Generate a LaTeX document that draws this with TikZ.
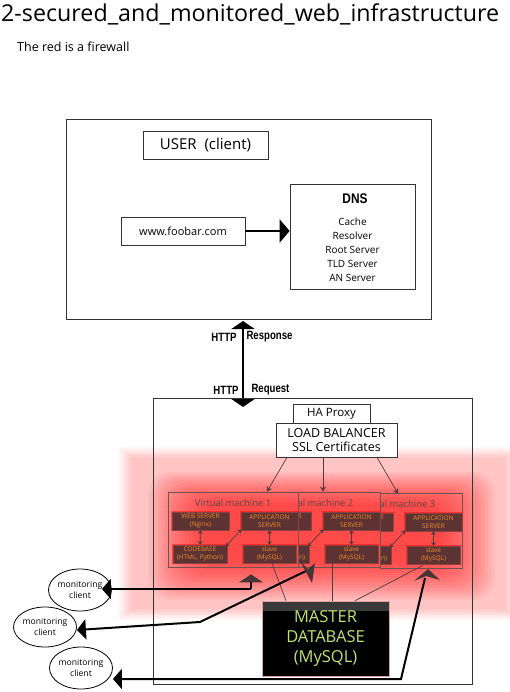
\documentclass[tikz,border=0pt]{standalone}
\usepackage{graphicx}
\usepackage{fontspec}
\setmainfont{Open Sans}
\newfontfamily\boldcond{Liberation Sans}
\usetikzlibrary{arrows.meta,shapes.geometric,calc}
\definecolor{vmframe}{RGB}{110,82,82}
\definecolor{ibfill}{RGB}{92,50,50}
\definecolor{ibdraw}{RGB}{140,64,64}
\definecolor{ibtext}{RGB}{240,140,45}
\definecolor{headgray}{RGB}{72,52,52}
\definecolor{dbtext}{RGB}{192,228,112}
\definecolor{lnk}{RGB}{78,58,58}
\definecolor{dbband}{RGB}{58,58,58}
\definecolor{dbedge}{RGB}{220,160,160}
\definecolor{vmtitle}{RGB}{92,72,72}
\newcommand\webfull{WEB SERVER\\(Nginx)}
\newcommand\webpart{\phantom{WEB SERVE}R\\\phantom{(Nginx)}}
\newcommand\codefull{CODEBASE\\(HTML, Python)}
\newcommand\codepart{\phantom{CODEBASE}\\\phantom{(HTML, Pytho}n)}
\begin{document}
\begin{tikzpicture}[x=1pt,y=-1pt,
  frame/.style={draw=black!80, line width=0.8pt, inner sep=0pt},
  wbox/.style={frame, fill=white},
  ib/.style={draw=ibdraw, fill=ibfill, line width=0.6pt, inner sep=0.5pt,
    minimum height=18pt, align=center, text=ibtext,
    font=\fontsize{6.5}{7.8}\selectfont,
    preaction={draw=red, line width=2.5pt, opacity=0.45}},
  vmbox/.style={draw=vmframe, line width=0.8pt, minimum width=130pt, minimum height=75pt, inner sep=0pt},
  vmt/.style={text=vmtitle, font=\fontsize{9.4}{11}\selectfont, inner sep=0pt},
  smallarr/.style={draw=lnk, line width=0.7pt, {Stealth[length=3.5pt,width=5pt]}-{Stealth[length=3.5pt,width=5pt]}},
  lbarr/.style={draw=lnk, line width=0.7pt, -{Stealth[length=5pt,width=6pt]}},
  dbline/.style={draw=lnk, line width=0.7pt},
  mon/.style={draw=black, line width=2pt},
  montip/.style={-{Triangle[width=20pt,length=9pt]}},
  client/.style={ellipse, draw=black, line width=0.8pt, fill=white, inner sep=0pt,
    align=center, font=\fontsize{8.6}{10.5}\selectfont},
  lbl/.style={inner sep=0pt, font=\fontsize{12}{14}\selectfont\boldcond\bfseries}
]
\useasboundingbox (0,0) rectangle (509,692);
\fill[white] (0,0) rectangle (509,692);

% title
\node[anchor=base west, inner sep=0pt] (title) at (1,22)
  {\resizebox{498pt}{!}{\fontsize{24}{28}\selectfont 2-secured\_and\_monitored\_web\_infrastructure}};
\node[anchor=base west, inner sep=0pt, font=\fontsize{12.5}{15}\selectfont] (sub) at (17,52) {The red is a firewall};

% user area
\node[wbox, minimum width=365pt, minimum height=200pt] (userarea) at (248.5,219) {};
\node[wbox, minimum width=125pt, minimum height=28pt, font=\fontsize{15}{18}\selectfont] (user) at (205.5,145) {USER\ \ (client)};
\node[wbox, minimum width=125pt, minimum height=105pt] (dns) at (352.5,236.5) {};
\node[inner sep=0pt, font=\fontsize{14}{16}\selectfont\boldcond\bfseries] (dnst) at (355,199) {\scalebox{0.85}[1]{DNS}};
\foreach \t/\yy [count=\k] in {Cache/222, Resolver/236, Root Server/250, TLD Server/264, AN Server/278}
  \node[inner sep=0pt, font=\fontsize{10}{12}\selectfont] (dnsi\k) at (352.5,\yy) {\t};
\node[wbox, minimum width=124pt, minimum height=28pt, font=\fontsize{11}{13}\selectfont] (www) at (183,231) {www.foobar.com};
\draw[line width=2.5pt, -{Triangle[width=23pt,length=10pt]}] (www.east) -- (www.east -| dns.west);

% lower area background
\fill[white] (153,398) rectangle (472,684);

% HTTP arrow
\coordinate (httptop) at (243,321);
\coordinate (httpbot) at (243,407);
\draw[line width=2.2pt, {Triangle[width=23pt,length=8pt]}-{Triangle[width=23pt,length=8pt]}] (httpbot) -- (httptop);
\node[lbl] (h1) at (224,337) {\scalebox{0.8}[1]{HTTP}};
\node[lbl] (r1) at (269.5,337) {\scalebox{0.8}[1]{Response}};
\node[lbl] (h2) at (226,390) {\scalebox{0.8}[1]{HTTP}};
\node[lbl] (r2) at (270.5,390) {\scalebox{0.8}[1]{Request}};

% firewall glow
\foreach \i in {0,...,9}
  \fill[red, opacity=0.022] (118+\i*1.5, 447+\i*1.2) rectangle (518-\i*1.5, 620-\i*1.2);
\foreach \i in {0,...,15}
  \fill[red, opacity=0.055, rounded corners=22pt] (148+\i*3.4, 472+\i*2.1) rectangle (495-\i*3.4, 600-\i*2.5);

\node[frame, minimum width=319pt, minimum height=286pt] (lower) at (312.5,541) {};
\node[wbox, minimum width=77pt, minimum height=19pt, font=\fontsize{11.5}{14}\selectfont] (ha) at (331.5,413.5) {HA Proxy};
\node[wbox, minimum width=121pt, minimum height=34pt, align=center, font=\fontsize{12.5}{14.5}\selectfont] (lb) at (336.5,440) {LOAD BALANCER\\SSL Certificates};

% virtual machines (each one partly hides the one behind it)
\foreach \n/\L/\T/\cl/\wt/\ct in {3/332/493/380/\webpart/\codepart, 2/250/492/298/\webpart/\codepart, 1/168/492/160/\webfull/\codefull} {
  \begin{scope}
    \clip (\cl,470) rectangle (490,590);
    \node[vmbox] (vm\n) at (\L+65,\T+37.5) {};
    \node[vmt] (vmt\n) at (\L+65,\T+11) {Virtual machine \n};
    \node[ib, minimum width=57pt] (web\n) at (\L+32.5,\T+29) {\wt};
    \node[ib, minimum width=57pt] (app\n) at (\L+101.5,\T+29) {APPLICATION\\SERVER};
    \node[ib, minimum width=54pt] (code\n) at (\L+32,\T+62) {\ct};
    \node[ib, minimum width=53pt] (slave\n) at (\L+101.5,\T+62) {slave\\(MySQL)};
    \draw[smallarr] (web\n) -- (code\n);
    \draw[smallarr] (app\n) -- (slave\n);
    \draw[smallarr, shorten <=-1pt, shorten >=-2pt] (app\n.south west) -- (code\n.north east);
  \end{scope}
}

% load balancer arrows
\draw[lbarr] ($(lb.south)+(-49.5,0)$) -- ($(vm1.north)+(34,0)$);
\draw[lbarr] ($(lb.south)+(-13.5,0)$) -- ($(vm2.north)+(8,0)$);
\draw[lbarr] ($(lb.south)+(40.5,0)$) -- ($(vm3.north)+(1,1)$);

% master database
\node[draw=dbedge, fill=black, line width=0.6pt, minimum width=127pt, minimum height=75pt, inner sep=0pt,
  align=center, text=dbtext, font=\fontsize{16.5}{20}\selectfont,
  path picture={\fill[dbband] (path picture bounding box.north west) rectangle ([yshift=-10pt]path picture bounding box.north east);}]
  (master) at (325.5,638.5) {MASTER\\DATABASE\\(MySQL)};
\draw[dbline] ($(slave1.south)+(2.5,0)$) -- ($(master.north)+(-39.5,0)$);
\draw[dbline] ($(slave2.south)+(-19.5,0)$) -- ($(master.north)+(6.5,0)$);
\draw[dbline] ($(slave3.south)+(-10.5,1)$) -- ($(master.north)+(29.5,0)$);

% monitoring clients
\node[client, minimum width=46pt, minimum height=42pt] (client1) at (80,590) {monitoring\\client};
\node[client, minimum width=48pt, minimum height=40pt] (client2) at (45,627) {monitoring\\client};
\node[client, minimum width=46pt, minimum height=42pt] (client3) at (81,668) {monitoring\\client};

% monitoring arrows
\coordinate (m1c) at (251,589);
\draw[mon, montip, shorten >=-10pt] (m1c) -- (m1c -| client1.east);
\draw[mon, -{Triangle[width=24pt,length=8pt,color=headgray]}] (m1c) -- ($(vm1.south)+(18,7)$);

\coordinate (m2a) at (200,622);
\coordinate (m2b) at (306,571);
\draw[mon, montip] (m2b) -- (m2a) -- ($(client2.east)+(0,3)$);
\fill[headgray] (300,561) -- (312,583) -- (315,563) -- (308,569) -- cycle;

\coordinate (m3a) at (401,679);
\coordinate (m3b) at (425,578);
\draw[mon, montip] (m3b) -- (m3a) -- (m3a -| client3.east);
\fill[headgray] (428,569) -- (440,580) -- (426,576) -- (414,581) -- cycle;
\end{tikzpicture}
\end{document}
